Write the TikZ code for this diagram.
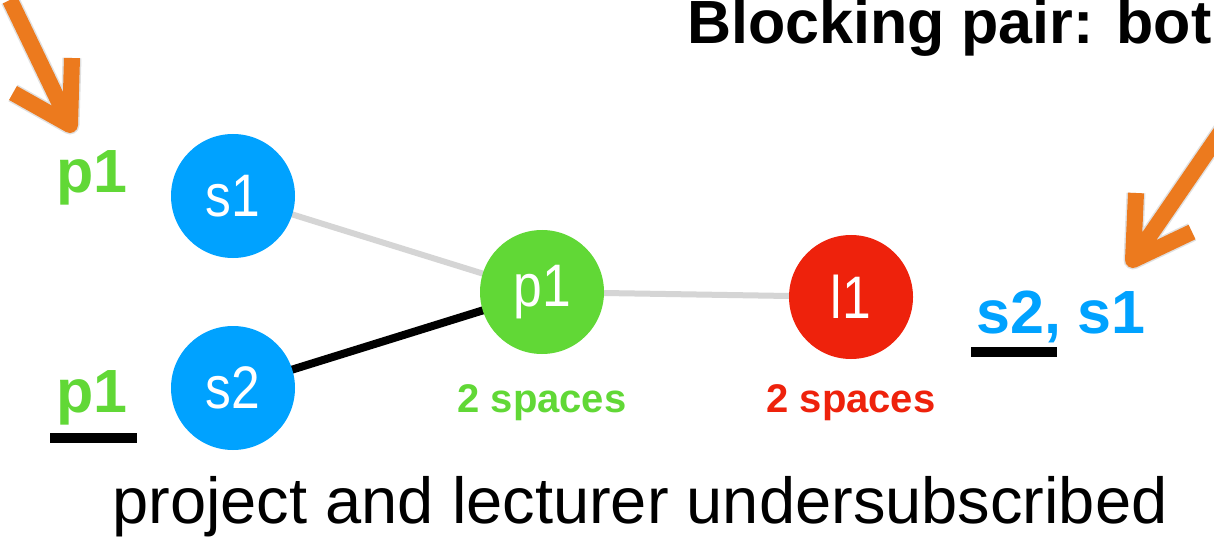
\documentclass[tikz,border=0pt]{standalone}
\usepackage{fontspec}
\setmainfont{Liberation Sans}
\newfontfamily\narrowfont[FakeStretch=0.86]{Liberation Sans}
\usetikzlibrary{calc}
\definecolor{kblue}{HTML}{00A2FF}
\definecolor{kgreen}{HTML}{61D836}
\definecolor{kred}{HTML}{EE220C}
\definecolor{korange}{HTML}{EC7A1E}
\definecolor{kgray}{HTML}{D5D5D5}
\tikzset{
  vert/.style={circle, minimum size=124pt, inner sep=0pt, text=white,
    font=\narrowfont\fontsize{60}{60}\selectfont},
  lbl/.style={inner sep=0pt, anchor=base, font=\bfseries\fontsize{61}{61}\selectfont},
  small/.style={inner sep=0pt, anchor=base, font=\bfseries\fontsize{40}{40}\selectfont},
  weak/.style={draw=kgray, line width=6pt},
  strong/.style={draw=black, line width=8pt},
  bigarrow/.style={draw=korange, line width=16pt, line join=round},
  arrowshadow/.style={draw=black, opacity=0.12, line width=19pt, line join=round},
  ubar/.style={fill=black}
}
\begin{document}
\begin{tikzpicture}[x=1pt,y=-1pt]
\useasboundingbox (0,0) rectangle (1214,537);
\clip (0,0) rectangle (1214,537);
\fill[white] (0,0) rectangle (1214,537);

% title
\node[inner sep=0pt, anchor=base west, font=\bfseries\fontsize{61}{61}\selectfont] (title) at (687,44) {Blocking pair: bot};

% edges (drawn first so the circles cover their ends)
\coordinate (cs1) at (233,196);
\coordinate (cs2) at (233,388);
\coordinate (cp1) at (542,292);
\coordinate (cl1) at (851,297);
\draw[weak] (cs1) -- (cp1);
\draw[strong] (cs2) -- (cp1);
\draw[weak] (cp1) -- (cl1);

% vertices
\node[vert, fill=kblue] (s1) at (cs1) {s1};
\node[vert, fill=kblue] (s2) at (cs2) {s2};
\node[vert, fill=kgreen] (p1) at (cp1) {p1};
\node[vert, fill=kred] (l1) at (cl1) {l1};

% capacities
\node[small, text=kgreen] (cp) at (542,412) {2 spaces};
\node[small, text=kred] (cl) at (851,412) {2 spaces};

% preference lists
\node[lbl, text=kgreen] (pref1) at (92,193) {p1};
\node[lbl, text=kgreen] (pref2) at (92,412) {p1};
\fill[ubar] (50,433) rectangle (137,443);
\node[lbl, text=kblue, anchor=base west] (prefl) at (976,333) {s2, s1};
\fill[ubar] (971,347) rectangle (1057,357);

% arrows
\coordinate (a1s) at (10,0);
\coordinate (a1t) at (70,125);
\coordinate (a1a) at (13,93);
\coordinate (a1b) at (72,58);
\draw[arrowshadow, shift={(4,5)}] (a1s) -- (a1t) (a1a) -- (a1t) -- (a1b);
\draw[bigarrow] (a1s) -- (a1t) (a1a) -- (a1t) -- (a1b);

\coordinate (a2s) at (1225,126);
\coordinate (a2t) at (1133,260);
\coordinate (a2a) at (1136,193);
\coordinate (a2b) at (1192,232);
\draw[arrowshadow, shift={(4,5)}] (a2s) -- (a2t) (a2a) -- (a2t) -- (a2b);
\draw[bigarrow] (a2s) -- (a2t) (a2a) -- (a2t) -- (a2b);

% caption
\node[inner sep=0pt, anchor=base, font=\fontsize{65}{65}\selectfont] (cap) at (640,523) {project and lecturer undersubscribed};
\end{tikzpicture}
\end{document}
